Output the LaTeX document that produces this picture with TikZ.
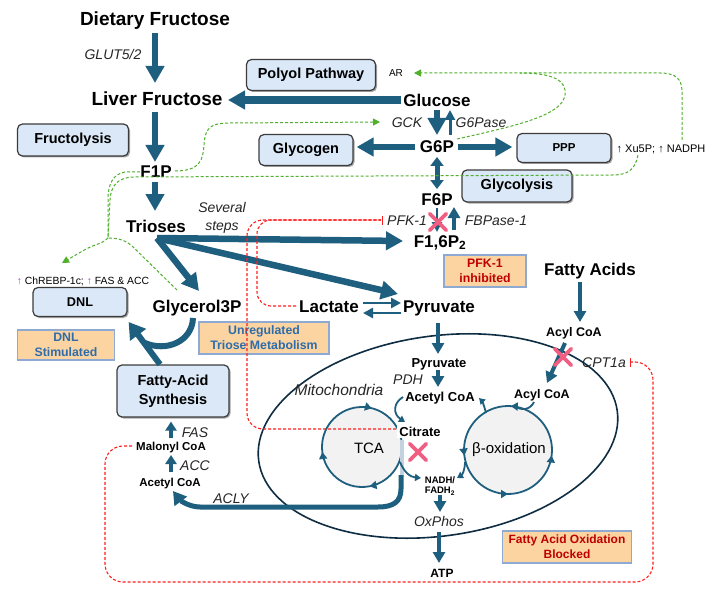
\documentclass[tikz,border=0pt]{standalone}
\usepackage{fontspec}
\setmainfont{Liberation Sans}
\usetikzlibrary{arrows.meta,calc,shapes.geometric,shapes.misc,shadows,decorations.markings}
\definecolor{tb}{RGB}{30,94,126}
\definecolor{boxfill}{RGB}{218,232,247}
\definecolor{boxline}{RGB}{60,60,60}
\definecolor{ofill}{RGB}{251,212,162}
\definecolor{oline}{RGB}{143,170,210}
\definecolor{otblue}{RGB}{46,108,170}
\definecolor{otred}{RGB}{192,0,0}
\definecolor{gdash}{RGB}{80,175,45}
\definecolor{rdash}{RGB}{255,30,30}
\definecolor{xpink}{RGB}{240,95,130}
\definecolor{mito}{RGB}{14,45,66}
\definecolor{circfill}{RGB}{242,242,242}
\definecolor{uppurple}{RGB}{150,80,170}
\definecolor{barblue}{RGB}{195,210,222}
\begin{document}
\begin{tikzpicture}[x=1pt,y=-1pt,
  txt/.style={inner sep=0pt, anchor=base, text=black},
  tbig/.style={txt, font=\fontsize{19}{22}\selectfont\bfseries},
  tmid/.style={txt, font=\fontsize{17}{20}\selectfont\bfseries},
  tsm/.style={txt, font=\fontsize{11.5}{13}\selectfont\bfseries},
  tsmm/.style={txt, font=\fontsize{13}{15}\selectfont\bfseries},
  tit/.style={txt, text=black!85, font=\fontsize{14}{16}\selectfont\itshape},
  treg/.style={txt, font=\fontsize{15}{17}\selectfont},
  bluebox/.style={rounded corners=5pt, draw=boxline, line width=1.2pt, fill=boxfill,
     drop shadow={shadow xshift=1.5pt,shadow yshift=-1.5pt,fill=black,opacity=0.35},
     inner sep=0pt, align=center, font=\fontsize{14.5}{19}\selectfont\bfseries},
  obox/.style={draw=oline, line width=1.2pt, fill=ofill, inner sep=0pt, align=center,
     font=\fontsize{12.3}{15}\selectfont\bfseries},
  abig/.style={color=tb, line width=6.5pt, -{Triangle[length=17pt,width=18pt]}},
  amed/.style={color=tb, line width=4pt, -{Triangle[length=11pt,width=12pt]}},
  athin/.style={color=tb, line width=2.8pt, -{Triangle[length=10pt,width=10pt]}},
  amini/.style={color=tb, line width=1.8pt, -{Triangle[length=6pt,width=7pt]}},
  gd/.style={draw=gdash, line width=1pt, dash pattern=on 3pt off 2pt},
  gtip/.style={-{Triangle[length=7pt,width=7pt,fill=gdash]}},
  rd/.style={draw=rdash, line width=1.1pt, dash pattern=on 3pt off 2pt},
  rtip/.style={-{Bar[width=9pt]}},
  xcr/.style={cross out, draw=xpink, line width=3.8pt, minimum size=13pt, inner sep=0pt, line cap=round},
  circmark/.style={color=tb, line width=1.8pt, postaction={decorate}},
]
\fill[white] (0,0) rectangle (723,591);
\useasboundingbox (0,0) rectangle (723,591);

% mitochondrion and cycles
\node[ellipse, draw=mito, line width=1.6pt, minimum width=362pt, minimum height=200pt, rotate=8, inner sep=0pt] (mitoel) at (438,436) {};
\node[circle, fill=circfill, minimum size=80pt, inner sep=0pt] (tca) at (362,447) {};
\node[circle, fill=circfill, minimum size=88pt, inner sep=0pt] (betac) at (508,450) {};
\draw[circmark, decoration={markings,
   mark=at position 0.22 with {\arrow{Triangle[length=7pt,width=8pt]}},
   mark=at position 0.48 with {\arrow{Triangle[length=7pt,width=8pt]}},
   mark=at position 0.79 with {\arrow{Triangle[length=7pt,width=8pt]}}}]
   (tca.center) ++(40,0) arc[start angle=0,end angle=360,radius=40];
\draw[circmark, decoration={markings,
   mark=at position 0.24 with {\arrow{Triangle[length=7pt,width=8pt]}},
   mark=at position 0.52 with {\arrow{Triangle[length=7pt,width=8pt]}},
   mark=at position 0.75 with {\arrow{Triangle[length=7pt,width=8pt]}},
   mark=at position 0.98 with {\arrow{Triangle[length=7pt,width=8pt]}}}]
   (betac.center) ++(44,0) arc[start angle=0,end angle=-360,radius=44];
\draw[color=barblue, line width=3.5pt] ($(tca.center)+(40,-7)$) -- ($(tca.center)+(40,28)$);

% boxes
\node[bluebox, minimum width=129pt, minimum height=31pt] (polyol) at (311,75) {Polyol Pathway};
\node[bluebox, minimum width=111pt, minimum height=32pt] (fructolysis) at (73,140) {Fructolysis};
\node[bluebox, minimum width=94pt, minimum height=31pt] (glycogen) at (306,150) {Glycogen};
\node[bluebox, minimum width=94pt, minimum height=29pt, font=\fontsize{11.5}{14}\selectfont\bfseries] (ppp) at (564,148) {PPP};
\node[bluebox, minimum width=110pt, minimum height=32pt] (glycolysis) at (517,186) {Glycolysis};
\node[bluebox, minimum width=94pt, minimum height=29pt, font=\fontsize{12.7}{15}\selectfont\bfseries] (dnl) at (80,302) {DNL};
\node[bluebox, minimum width=112pt, minimum height=52pt, font=\fontsize{14.5}{19}\selectfont\bfseries] (fasyn) at (173,391) {Fatty-Acid\\Synthesis};
\node[obox, text=otred, minimum width=82pt, minimum height=32pt] (pfkinh) at (485,271) {PFK-1\\inhibited};
\node[obox, text=otblue, minimum width=130pt, minimum height=32pt] (unreg) at (264,338) {Unregulated\\Triose Metabolism};
\node[obox, text=otblue, minimum width=97pt, minimum height=30pt] (dnlstim) at (66,345) {DNL\\Stimulated};
\node[obox, text=otred, minimum width=129pt, minimum height=32pt, font=\fontsize{12}{15}\selectfont\bfseries] (faob) at (567,547) {Fatty Acid Oxidation\\Blocked};

% texts
\node[tbig] (df) at (155,26) {Dietary Fructose};
\node[tit] (glut) at (113,60) {GLUT5/2};
\node[tbig] (lf) at (157,106) {Liver Fructose};
\node[tmid] (glc) at (437,107) {Glucose};
\node[txt, font=\fontsize{10}{12}\selectfont] (ar) at (396,77) {AR};
\node[tmid] (f1p) at (156,178) {F1P};
\node[tmid] (trio) at (156,232) {Trioses};
\node[tit] (sev1) at (222,212) {Several};
\node[tit] (sev2) at (222,230) {steps};
\node[tmid] (g6p) at (437,153) {G6P};
\node[tit] (gck) at (407,128) {GCK};
\node[tit] (g6pase) at (481,128) {G6Pase};
\node[txt, font=\fontsize{11}{13}\selectfont] (xu) at (661,153) {↑ Xu5P; ↑ NADPH};
\node[tmid] (f6p) at (437,205) {F6P};
\node[tit] (pfk) at (407,225) {PFK-1};
\node[tit] (fbp) at (496,225) {FBPase-1};
\node[tmid] (f16) at (440,247) {F1,6P\textsubscript{2}};
\node[tmid] (fa) at (590,275) {Fatty Acids};
\node[txt, font=\fontsize{12.5}{14}\selectfont\bfseries] (acyl1) at (574,336) {Acyl CoA};
\node[txt, font=\fontsize{12.5}{14}\selectfont\bfseries] (acyl2) at (542,398) {Acyl CoA};
\node[tit] (cpt) at (604,367) {CPT1a};
\node[tmid] (lac) at (329,312) {Lactate};
\node[tmid] (pyr) at (439,312) {Pyruvate};
\node[tmid] (g3p) at (197,312) {Glycerol3P};
\node[txt, font=\fontsize{10.4}{12}\selectfont] (chrebp) at (83,284) {\textcolor{uppurple}{↑} ChREBP-1c; \textcolor{uppurple}{↑} FAS \& ACC};
\node[tsmm] (pyr2) at (439,367) {Pyruvate};
\node[tit] (pdh) at (408,384) {PDH};
\node[tit, font=\fontsize{15.5}{17}\selectfont\itshape] (mitolab) at (339,395) {Mitochondria};
\node[tsmm] (acet2) at (440,401) {Acetyl CoA};
\node[tsmm, fill=white, inner sep=2pt] (citrate) at (420,436) {Citrate};
\node[treg] (tcal) at (369,453) {TCA};
\node[treg] (betal) at (509,453) {β-oxidation};
\node[font=\fontsize{9.5}{10}\selectfont\bfseries, align=center, inner sep=0pt] (nadh) at (440,486) {NADH/\\FADH\textsubscript{2}};
\node[tit] (oxphos) at (439,526) {OxPhos};
\node[txt, font=\fontsize{12}{14}\selectfont\bfseries] (atp) at (442,577) {ATP};
\node[tsm] (malonyl) at (171,450) {Malonyl CoA};
\node[tit] (fasl) at (195,437) {FAS};
\node[tit] (accl) at (195,470) {ACC};
\node[tsm] (acet1) at (170,486) {Acetyl CoA};
\node[tit] (acly) at (231,503) {ACLY};

% main teal arrows
\draw[abig] ($(df.base)+(0,7)$) -- ($(lf.base)+(-2,-23)$);
\draw[abig, line width=7.5pt] ($(glc.base)+(-36,-7)$) -- ($(lf.base)+(71,-6)$);
\draw[abig] ($(lf.base)+(-2,6)$) -- ($(f1p.base)+(-1,-16)$);
\draw[abig] ($(f1p.base)+(-1,4)$) -- ($(trio.base)+(-1,-21)$);
\coordinate (fanapex) at ($(trio.base)+(1,6)$);
\draw[abig] (fanapex) -- ($(f16.base)+(-37,-6)$);
\draw[abig] (fanapex) -- ($(pyr.base)+(-41,-18)$);
\draw[abig] (fanapex) -- ($(g3p.base)+(2,-21)$);
\draw[abig] ($(glc.base)+(0,3)$) -- ($(g6p.base)+(0,-18)$);
\draw[athin, line width=3pt] ($(g6p.base)+(13,-18)$) -- ($(glc.base)+(13,3)$);
\draw[abig] ($(g6p.base)+(-22,-6)$) -- ($(glycogen.east)+(3,-3)$);
\draw[abig] ($(g6p.base)+(21,-6)$) -- ($(ppp.west)+(-4,-1)$);
\draw[color=tb, line width=5pt, {Triangle[length=9pt,width=13pt]}-{Triangle[length=9pt,width=13pt]}] ($(g6p.base)+(0,4)$) -- ($(f6p.base)+(0,-16)$);
\draw[athin] ($(f6p.base)+(0,3)$) -- ($(f16.base)+(-3,-15)$);
\draw[amed] ($(f16.base)+(14,-17)$) -- ($(f6p.base)+(17,2)$);
\draw[athin] ($(lac.base)+(34,-9)$) -- ($(pyr.base)+(-38,-9)$);
\draw[athin] ($(pyr.base)+(-38,1)$) -- ($(lac.base)+(34,1)$);
\draw[amed] ($(pyr.base)+(-1,11)$) -- ($(pyr2.base)+(-1,-13)$);
\draw[amed] ($(pyr2.base)+(-1,3)$) -- ($(acet2.base)+(-2,-14)$);
\draw[amed] ($(fa.base)+(-10,7)$) -- ($(acyl1.base)+(6,-14)$);
\draw[amed] ($(acyl1.base)+(-9,7)$) -- ($(acyl2.base)+(5,-15)$);
\draw[amed] (nadh.south) -- ($(oxphos.base)+(1,-14)$);
\draw[amed] ($(oxphos.base)+(0,6)$) -- ($(atp.base)+(-3,-14)$);
\draw[amed, -{Triangle[length=9pt,width=11pt]}] ($(malonyl.base)+(0,-12)$) -- ($(fasyn.south)+(-2,4)$);
\draw[amed, -{Triangle[length=9pt,width=11pt]}] ($(acet1.base)+(1,-14)$) -- ($(malonyl.base)+(0,5)$);
% glycerol3P / FA synthesis -> DNL
\draw[color=tb, line width=6pt] ($(g3p.base)+(-4,6)$) .. controls (192,342) and (166,352) .. (145,343);
\draw[color=tb, line width=6pt, -{Triangle[length=16pt,width=19pt]}] ($(fasyn.north)+(-13,0)$) -- ($(dnl.east)+(1,20)$);
% ACLY
\draw[color=tb, line width=5pt, -{Triangle[length=13pt,width=15pt]}] ($(tca.center)+(39,28)$) -- ($(tca.center)+(39,42)$) .. controls +(0,13) and +(15,0) .. ($(tca.center)+(16,60)$) -- ($(acet1.base)+(30,21)$) .. controls +(-12,0) and +(6,8) .. ($(acet1.base)+(3,5)$);
% small mitochondrial arrows
\draw[amini] ($(acet2.base)+(-37,-4)$) .. controls (393,403) and (393,414) .. ($(citrate.base)+(-15,-14)$);
\draw[amini] ($(betac.center)+(-22,-37)$) .. controls (484,405) and (482,401) .. ($(acet2.base)+(39,-3)$);
\draw[color=tb, line width=1.8pt] ($(acyl2.base)+(-8,4)$) .. controls (530,410) and (522,411) .. ($(betac.center)+(6,-44)$);
\draw[amini] ($(tca.center)+(38,15)$) .. controls (404,472) and (410,477) .. ($(nadh.center)+(-19,-8)$);
\draw[amini] ($(betac.center)+(-43,12)$) .. controls (465,470) and (462,475) .. ($(nadh.center)+(17,-8)$);

% red dashed inhibitions
\draw[rd, rounded corners=16pt, rtip] ($(citrate.base)+(-24,-7)$) -- (247,429) -- (247,220) -- ($(pfk.base)+(-24,-5)$);
\draw[rd, rounded corners=14pt] ($(lac.base)+(-33,-6)$) -- (257,306) -- (257,220) -- ($(pfk.base)+(-26,-5)$);
\draw[rd, rounded corners=18pt, rtip] ($(malonyl.base)+(-39,-4)$) -- (105,446) -- (105,582) -- (653,582) -- (653,362) -- ($(cpt.base)+(26,-5)$);

% green dashed activations
\coordinate (gj) at (108,238);
\draw[gd, gtip] ($(f1p.base)+(19,-7)$) .. controls (200,171) and (203,160) .. (204,145) .. controls (205,128) and (210,123) .. (230,123) -- ($(gck.base)+(-27,-6)$);
\draw[gd, gtip] ($(g6p.base)+(20,-14)$) .. controls (520,125) and (562,115) .. (565,95) .. controls (567,80) and (552,73) .. (520,73) -- ($(ar.base)+(18,-4)$);
\draw[gd] ($(xu.base)+(21,-13)$) -- (682,92) .. controls (682,79) and (676,73) .. (660,73) -- (520,73);
\draw[gd] ($(xu.base)+(-23,2)$) .. controls (635,170) and (628,175) .. (612,175) -- (135,177) .. controls (118,177) and (111,185) .. (110,200) -- (gj);
\draw[gd] ($(f1p.base)+(-16,-6)$) -- (125,172) .. controls (113,174) and (108,184) .. (108,200) -- (gj);
\draw[gd, gtip] (gj) .. controls (104,243) and (96,244) .. (86,249) -- ($(chrebp.base)+(-21,-21)$);
\draw[gd] ($(g3p.base)+(-20,-22)$) -- (131,245) .. controls (123,239) and (116,238) .. (gj);

% block marks
\node[xcr] (x1) at (438,222) {};
\node[xcr] (x2) at (563,357) {};
\node[xcr] (x3) at (418,452) {};
\end{tikzpicture}
\end{document}
